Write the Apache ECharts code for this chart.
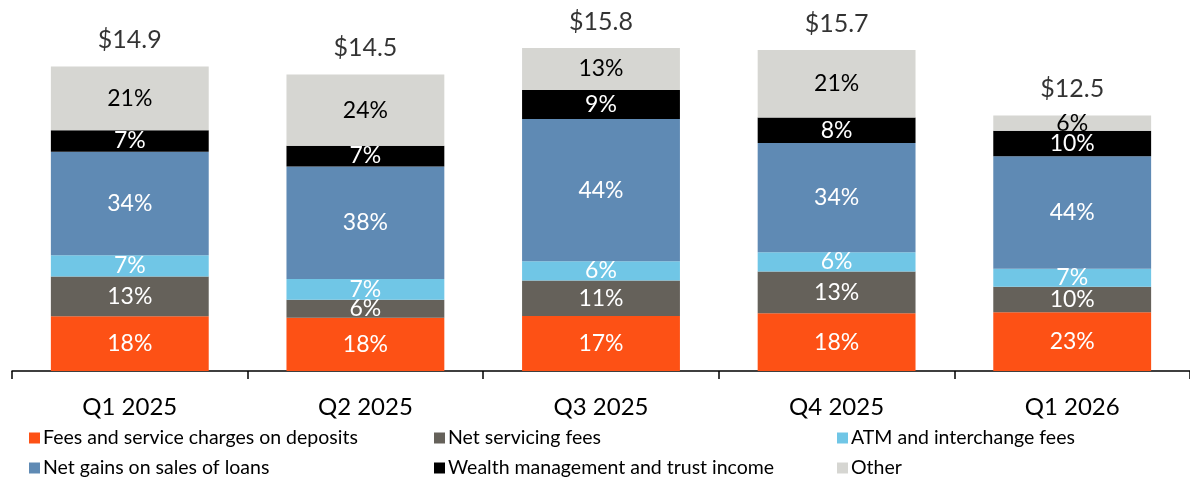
<!DOCTYPE html>
<html>
<head>
<meta charset="utf-8">
<script src="https://cdn.jsdelivr.net/npm/echarts@6/dist/echarts.min.js"></script>
<style>
  html, body { margin: 0; padding: 0; background: #fff; }
  #chart { width: 1190px; height: 477px; }
</style>
</head>
<body>
<div id="chart"></div>
<script>
// quarters and totals ($, millions)
const categories = ['Q1 2025', 'Q2 2025', 'Q3 2025', 'Q4 2025', 'Q1 2026'];
const totals = [14.9, 14.5, 15.8, 15.7, 12.5];

// share of total, percent
const feesPct = [18, 18, 17, 18, 23];
const servicingPct = [13, 6, 11, 13, 10];
const atmPct = [7, 7, 6, 6, 7];
const loansPct = [34, 38, 44, 34, 44];
const wealthPct = [7, 7, 9, 8, 10];
const otherPct = [21, 24, 13, 21, 6];

const FONT = 'Lato, "Open Sans", sans-serif';

function makeSeries(name, pcts, color, labelColor) {
    return {
        name: name,
        type: 'bar',
        stack: 'total',
        barWidth: '67%',
        itemStyle: { color: color },
        label: {
            show: true,
            position: 'inside',
            color: labelColor,
            fontFamily: FONT,
            fontSize: 23,
            formatter: p => pcts[p.dataIndex] + '%'
        },
        data: pcts.map((v, i) => +(v * totals[i] / 100).toFixed(3))
    };
}

let series = [
    makeSeries('Fees and service charges on deposits', feesPct, '#FD5115', '#fff'),
    makeSeries('Net servicing fees', servicingPct, '#65615A', '#fff'),
    makeSeries('ATM and interchange fees', atmPct, '#70C6E6', '#fff'),
    makeSeries('Net gains on sales of loans', loansPct, '#5F8AB4', '#fff'),
    makeSeries('Wealth management and trust income', wealthPct, '#000000', '#fff'),
    makeSeries('Other', otherPct, '#D6D6D2', '#000'),
    {
        // total on top of each bar
        type: 'scatter',
        symbolSize: 0,
        silent: true,
        label: {
            show: true,
            position: 'top',
            distance: 14,
            color: '#000',
            fontFamily: FONT,
            fontSize: 25,
            formatter: p => '$' + p.value.toFixed(1)
        },
        data: totals
    }
];

// one legend per item so columns line up like the original
function legendItem(left, top, name) {
    return {
        left: left,
        top: top,
        itemWidth: 11,
        itemHeight: 11,
        itemGap: 0,
        icon: 'rect',
        textStyle: { fontFamily: FONT, fontSize: 19.5, color: '#000', padding: [0, 0, 0, -2] },
        data: [name]
    };
}

let chart = echarts.init(document.getElementById('chart'));
chart.setOption({
    animation: false,
    grid: { left: 12, top: 3, width: 1190, bottom: 106 },
    legend: [
        legendItem(24, 423, 'Fees and service charges on deposits'),
        legendItem(429, 423, 'Net servicing fees'),
        legendItem(832, 423, 'ATM and interchange fees'),
        legendItem(24, 453, 'Net gains on sales of loans'),
        legendItem(429, 453, 'Wealth management and trust income'),
        legendItem(832, 453, 'Other')
    ],
    xAxis: {
        type: 'category',
        data: categories,
        axisLine: { lineStyle: { color: '#000', width: 1.5 } },
        axisTick: { show: true, length: 8, lineStyle: { color: '#000', width: 1.5 } },
        axisLabel: { fontFamily: FONT, fontSize: 24, color: '#000', margin: 24 }
    },
    yAxis: {
        type: 'value',
        min: 0,
        max: 18,
        show: false,
        splitLine: { show: false }
    },
    series: series
});
</script>
</body>
</html>
